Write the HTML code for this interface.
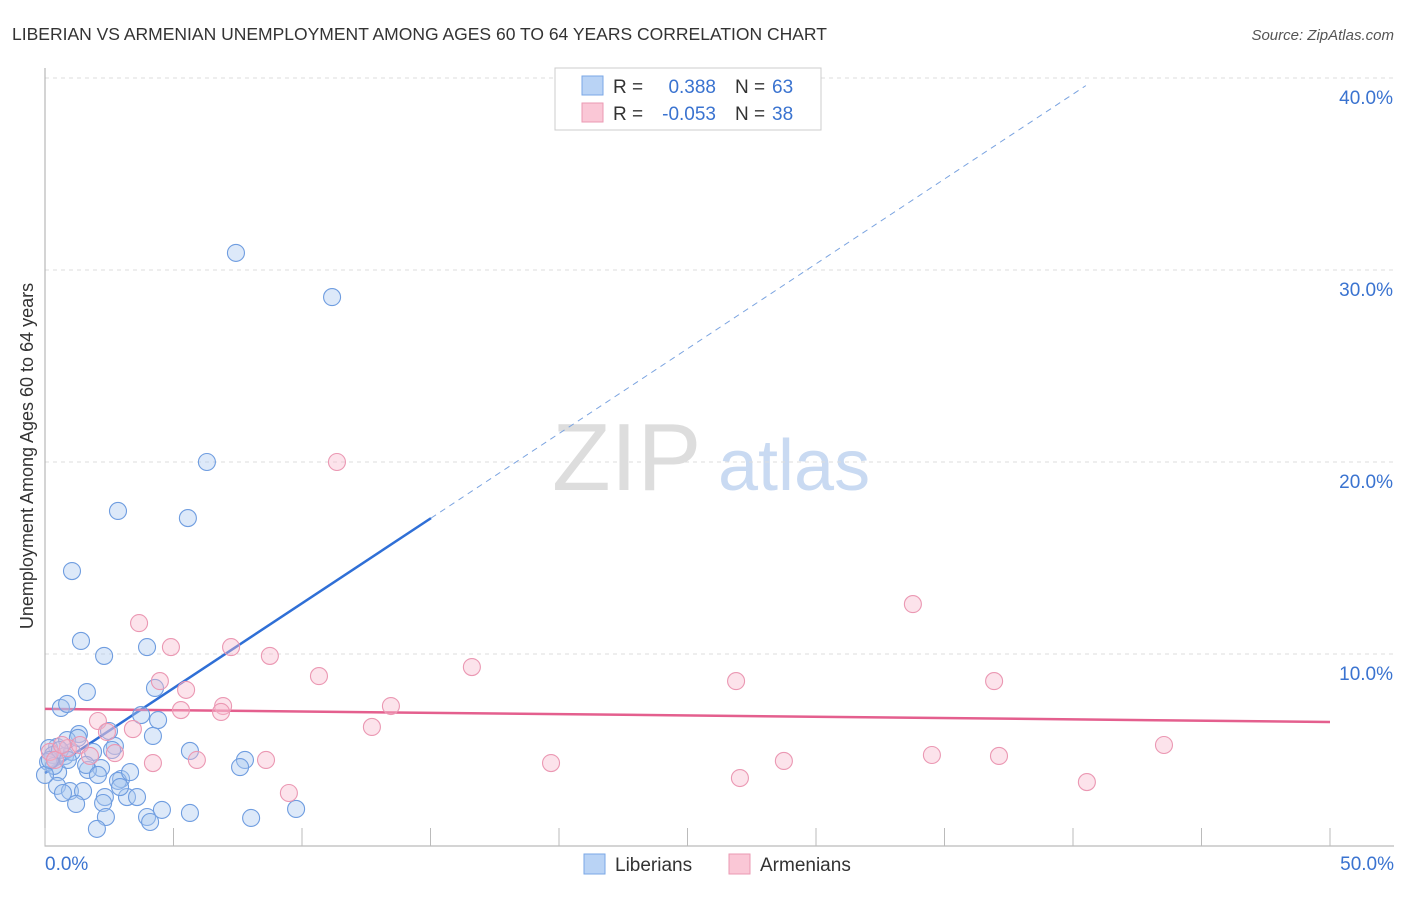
<!DOCTYPE html>
<html><head><meta charset="utf-8"><style>
body{margin:0;background:#fff;font-family:"Liberation Sans",sans-serif;}
svg text{font-family:"Liberation Sans",sans-serif;}
</style></head><body>
<svg id="chart" width="1406" height="892" xmlns="http://www.w3.org/2000/svg">
<text x="12" y="40" font-size="17.5" fill="#333">LIBERIAN VS ARMENIAN UNEMPLOYMENT AMONG AGES 60 TO 64 YEARS CORRELATION CHART</text>
<text x="1394" y="40" font-size="15" fill="#555" font-style="italic" text-anchor="end">Source: ZipAtlas.com</text>
<text x="33" y="456" font-size="18" fill="#333" text-anchor="middle" transform="rotate(-90 33 456)">Unemployment Among Ages 60 to 64 years</text>
<g><text x="552" y="490" font-size="96" fill="#ddd" font-family="Liberation Serif">ZIP</text><text x="718" y="490" font-size="72" fill="#c9daf2">atlas</text></g>
<g id="grid"></g><g id="axes"></g><g id="lines"></g><g id="pts"></g>
<g>
<rect x="555" y="68" width="266" height="62" fill="#fff" stroke="#ccc"/>
<rect x="582" y="76" width="21" height="19" fill="#b9d3f5" stroke="#7aa7e6"/>
<rect x="582" y="103" width="21" height="19" fill="#fac7d6" stroke="#eb9ab3"/>
<text x="613" y="93" font-size="19" fill="#333">R =</text><text x="716" y="93" font-size="19" fill="#3a73d0" text-anchor="end">0.388</text>
<text x="735" y="93" font-size="19" fill="#333">N =</text><text x="772" y="93" font-size="19" fill="#3a73d0">63</text>
<text x="613" y="120" font-size="19" fill="#333">R =</text><text x="716" y="120" font-size="19" fill="#3a73d0" text-anchor="end">-0.053</text>
<text x="735" y="120" font-size="19" fill="#333">N =</text><text x="772" y="120" font-size="19" fill="#3a73d0">38</text>
</g>
<g>
<rect x="584" y="854" width="21" height="20" fill="#b9d3f5" stroke="#7aa7e6"/>
<text x="615" y="871" font-size="19" fill="#333">Liberians</text>
<rect x="729" y="854" width="21" height="20" fill="#fac7d6" stroke="#eb9ab3"/>
<text x="760" y="871" font-size="19" fill="#333">Armenians</text>
</g>
</svg>
<script>
const yTicks=[10,20,30,40];
const yTickLabels=["10.0%","20.0%","30.0%","40.0%"];
const xTicks=[0,5,10,15,20,25,30,35,40,45,50];
const libX=[7.43,11.17,6.30,2.84,5.56,1.05,1.40,2.30,3.97,4.28,1.63,0.62,0.86,3.74,4.40,2.49,4.20,0.47,1.32,0.16,0.31,0.78,1.05,1.87,2.96,2.18,0.51,1.67,5.64,7.78,7.59,0.47,0.97,1.48,2.33,2.84,2.26,1.21,3.19,3.58,2.37,2.02,3.97,4.09,4.55,5.64,8.02,9.77,2.72,0.12,0.35,0.86,1.28,2.61,2.92,0.70,1.60,0.0,0.19,0.58,2.06,3.31,0.89];
const libY=[30.89,28.59,20.0,17.45,17.08,14.32,10.68,9.90,10.36,8.23,8.02,7.19,7.40,6.82,6.56,5.99,5.73,5.16,5.83,5.10,4.74,4.69,4.90,4.90,3.49,4.06,3.85,3.96,4.95,4.48,4.11,3.13,2.86,2.86,2.55,3.39,2.24,2.19,2.55,2.55,1.51,0.89,1.51,1.25,1.88,1.72,1.46,1.93,5.21,4.38,4.17,5.52,5.63,5.0,3.07,2.76,4.22,3.70,4.48,5.0,3.70,3.85,4.48];
const armX=[3.66,4.90,7.24,8.75,10.66,4.47,5.49,6.93,5.29,6.85,2.06,3.42,2.41,12.72,13.46,11.36,33.77,16.61,26.89,36.93,4.20,5.91,8.60,19.69,28.75,34.51,37.12,43.54,40.54,27.04,9.49,2.72,0.89,0.19,0.39,1.36,0.66,1.75];
const armY=[11.61,10.36,10.36,9.90,8.85,8.59,8.13,7.29,7.08,6.98,6.51,6.09,5.94,6.20,7.29,20.0,12.60,9.32,8.59,8.59,4.32,4.48,4.48,4.32,4.43,4.74,4.69,5.26,3.33,3.54,2.76,4.84,5.10,4.90,4.48,5.26,5.26,4.69];
const libFit=[3.8,0.884];
const armFit=[7.14,-0.0136];
const NS="http://www.w3.org/2000/svg";
const sx=v=>45+v*25.7, sy=v=>846-v*19.2;
function mk(tag,attrs,parent){const e=document.createElementNS(NS,tag);for(const k in attrs)e.setAttribute(k,attrs[k]);document.getElementById(parent).appendChild(e);return e;}
yTicks.forEach((t,i)=>{
 const g=mk('line',{x1:45,x2:1394,y1:sy(t),y2:sy(t),stroke:'#ddd','stroke-dasharray':'4,4'},'grid');
 
 
 const l=mk('text',{x:1393,y:sy(t)+26,'font-size':19,fill:'#3a73d0','text-anchor':'end'},'axes');
 l.textContent=yTickLabels[i];
 
 
});
const ax=mk('path',{d:'M45 68V846H1394',stroke:'#aaa',fill:'none'},'axes');


xTicks.forEach(t=>{
 const k=mk('line',{x1:sx(t),x2:sx(t),y1:828,y2:846,stroke:'#bbb'},'axes');
 
 
});
const x0=mk('text',{x:45,y:870,'font-size':19,fill:'#3a73d0'},'axes');x0.textContent='0.0%';


const x1=mk('text',{x:1394,y:870,'font-size':19,fill:'#3a73d0','text-anchor':'end'},'axes');x1.textContent='50.0%';


libX.forEach((x,i)=>{
 const c=mk('circle',{cx:sx(x),cy:sy(libY[i]),r:8.5,fill:'rgba(170,200,240,0.4)',stroke:'#6f9de0','stroke-width':1.1},'pts');
 
 
});
armX.forEach((x,i)=>{
 const c=mk('circle',{cx:sx(x),cy:sy(armY[i]),r:8.5,fill:'rgba(248,185,205,0.4)',stroke:'#eb98b3','stroke-width':1.1},'pts');
 
 
});
const bf=x=>libFit[0]+libFit[1]*x, af=x=>armFit[0]+armFit[1]*x;
const l1=mk('line',{x1:sx(0),y1:sy(bf(0)),x2:sx(15.02),y2:sy(bf(15.02)),stroke:'#2f6fd6','stroke-width':2.5},'lines');


const l2=mk('line',{x1:sx(15.02),y1:sy(bf(15.02)),x2:sx(40.5),y2:sy(bf(40.5)),stroke:'#7aa3e0','stroke-width':1,'stroke-dasharray':'6,5'},'lines');


const l3=mk('line',{x1:sx(0),y1:sy(af(0)),x2:sx(50),y2:sy(af(50)),stroke:'#e45f8e','stroke-width':2.5},'lines');


</script>
</body></html>
